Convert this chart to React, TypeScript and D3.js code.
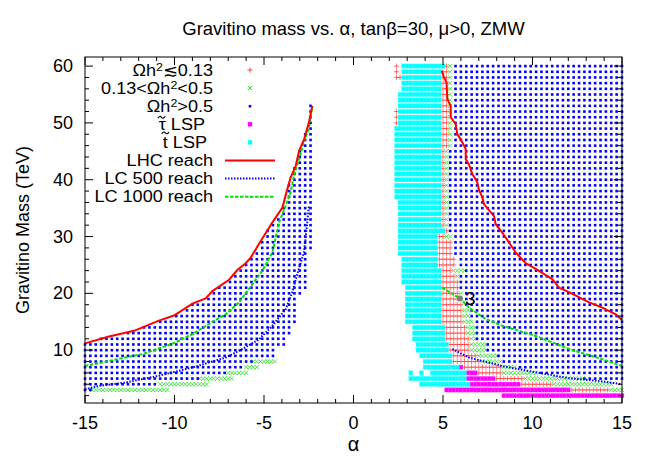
import React from "react";
import * as d3 from "d3";

type Row = [number, number, number]; // [mass (TeV), alpha from, alpha to]
type Pt = [number, number]; // [alpha, mass]

const title = "Gravitino mass vs. α, tanβ=30, μ>0, ZMW";
const xLabel = "α";
const yLabel = "Gravitino Mass (TeV)";
const xTicks = [-15, -10, -5, 0, 5, 10, 15];
const yTicks = [10, 20, 30, 40, 50, 60];

// stop LSP (cyan squares), fine scan step 0.2
const stopLSP: Row[] = [
  [60, 2.8, 5.0], [59, 2.8, 4.8], [58, 2.8, 4.8], [57, 2.8, 4.8], [56, 2.8, 4.8],
  [55, 2.6, 4.8], [54, 2.6, 4.8], [53, 2.6, 4.8], [52, 2.6, 4.8], [51, 2.6, 4.8], [50, 2.6, 4.8],
  [49, 2.4, 4.8], [48, 2.4, 4.8], [47, 2.4, 4.8], [46, 2.4, 4.8], [45, 2.4, 4.8], [44, 2.4, 4.8],
  [43, 2.4, 4.8], [42, 2.4, 4.8], [41, 2.4, 4.8], [40, 2.4, 4.8], [39, 2.4, 4.8], [38, 2.4, 4.8], [37, 2.4, 4.8],
  [36, 2.6, 4.8], [35, 2.6, 4.8], [34, 2.6, 4.8], [33, 2.6, 4.8], [32, 2.6, 4.8], [31, 2.6, 5.0],
  [30, 2.6, 4.6], [29, 2.6, 4.6], [28, 2.6, 4.6], [27, 2.6, 4.6], [26, 2.8, 4.6], [25, 2.8, 4.6],
  [24, 2.8, 4.8], [23, 2.8, 4.8], [22, 2.8, 4.8],
  [21, 3.0, 4.8], [20, 3.0, 4.8], [19, 3.0, 4.8], [18, 3.0, 4.8], [17, 3.0, 4.8], [16, 3.0, 4.8], [15, 3.0, 4.8],
  [14, 3.4, 5.0], [13, 3.4, 5.0], [12, 3.4, 5.0], [11, 3.6, 5.2], [10, 3.6, 5.2], [9, 3.8, 5.4],
  [8, 4.0, 5.4], [7, 4.0, 5.8], [6, 3.2, 3.2], [6, 3.8, 3.8], [6, 4.4, 6.2], [5, 3.2, 6.2], [4, 3.8, 6.4],
];

// stau LSP (magenta squares), step 0.2
const stauLSP: Row[] = [
  [7, 6.0, 6.0], [6, 6.4, 6.8], [5, 6.4, 7.8], [4, 6.6, 9.2], [3, 5.2, 12.0], [2, 8.4, 15.0],
];

// Ωh² < 0.13 (red +), step 0.2
const omegaLow: Row[] = [
  [60, 2.4, 2.4], [60, 5.2, 5.2], [59, 2.4, 2.4], [59, 5.0, 5.2], [58, 2.4, 2.6], [58, 5.0, 5.2],
  [57, 5.0, 5.2], [56, 5.0, 5.2], [55, 5.0, 5.2], [54, 5.0, 5.2], [53, 5.0, 5.2],
  [52, 2.4, 2.4], [52, 5.0, 5.2], [51, 2.4, 2.4], [51, 5.0, 5.2], [50, 2.4, 2.4], [50, 5.0, 5.2],
  [49, 5.0, 5.2], [48, 5.0, 5.2], [47, 5.0, 5.2], [46, 5.0, 5.2],
  [45, 5.0, 5.0], [44, 5.0, 5.0], [43, 5.0, 5.0], [42, 5.0, 5.0], [41, 5.0, 5.0], [40, 5.0, 5.0],
  [39, 5.0, 5.0], [38, 5.0, 5.0], [37, 5.0, 5.0], [36, 5.0, 5.0], [35, 5.0, 5.0], [34, 5.0, 5.0],
  [33, 5.0, 5.0], [32, 5.0, 5.0], [31, 5.2, 5.2], [30, 4.8, 5.0], [29, 4.8, 5.4], [28, 4.8, 5.4],
  [27, 4.8, 5.4], [26, 4.8, 5.6], [25, 4.8, 5.6], [24, 5.0, 5.4], [23, 5.0, 5.6], [22, 5.0, 5.8],
  [21, 5.0, 5.8], [20, 5.0, 5.8], [19, 5.0, 5.8], [18, 5.0, 6.0], [17, 5.0, 6.0], [16, 5.0, 6.0],
  [15, 5.0, 6.0], [14, 5.2, 6.2], [13, 5.2, 6.2], [12, 5.2, 6.4], [11, 5.4, 6.4], [10, 5.4, 6.4],
  [9, 5.6, 6.8], [8, 5.6, 7.0], [7, 6.2, 8.2], [6, 7.0, 8.2], [5, 8.0, 9.4], [4, 9.4, 11.0], [3, 12.2, 14.2],
];

// 0.13 < Ωh² < 0.5 (green x), step 0.2
const omegaMid: Row[] = [
  [60, 5.4, 5.4], [59, 5.4, 5.4], [58, 5.4, 5.4], [57, 5.4, 5.4], [56, 5.4, 5.4], [55, 5.4, 5.4],
  [54, 5.4, 5.4], [53, 5.4, 5.4], [52, 5.4, 5.4], [51, 5.4, 5.4], [50, 5.4, 5.4], [49, 5.4, 5.4],
  [48, 5.4, 5.4], [47, 5.4, 5.4], [46, 5.4, 5.4],
  [45, 5.2, 5.2], [44, 5.2, 5.2], [43, 5.2, 5.2], [42, 5.2, 5.2], [41, 5.2, 5.2], [40, 5.2, 5.2],
  [39, 5.2, 5.2], [38, 5.2, 5.2], [37, 5.2, 5.2], [36, 5.2, 5.2], [35, 5.2, 5.2], [34, 5.2, 5.2],
  [33, 5.2, 5.2], [32, 5.2, 5.2], [30, 5.2, 5.4], [24, 5.6, 6.2], [23, 5.8, 5.8],
  [20, 6.0, 6.0], [19, 6.0, 6.0], [17, 6.2, 6.4], [16, 6.2, 6.4], [15, 6.2, 6.6],
  [14, 6.4, 6.8], [13, 6.4, 6.8], [12, 6.6, 6.8], [11, 6.6, 7.4], [10, 6.6, 7.4],
  [9, 7.0, 8.0], [8, 7.2, 8.2], [7, 8.4, 9.0], [6, 8.4, 10.2], [5, 9.6, 12.8], [4, 11.2, 14.4], [3, 14.4, 15.0],
  [8, -5.6, -4.4], [7, -6.0, -5.4], [6, -7.0, -6.0], [5, -8.6, -6.8], [4, -10.8, -8.2], [3, -14.6, -10.4],
];

// Ωh² > 0.5 (blue dots), coarse scan step 0.3
const omegaHigh: Row[] = [
  [60, 5.7, 15], [59, 5.7, 15], [58, 5.7, 15], [57, 5.7, 15], [56, 5.7, 15], [55, 5.7, 15],
  [54, 5.7, 15], [53, 5.7, 15], [52, 5.7, 15], [51, 5.7, 15], [50, 5.7, 15], [49, 5.7, 15],
  [48, 5.7, 15], [47, 5.7, 15], [46, 5.7, 15],
  [45, 5.4, 15], [44, 5.4, 15], [43, 5.4, 15], [42, 5.4, 15], [41, 5.4, 15], [40, 5.4, 15],
  [39, 5.4, 15], [38, 5.4, 15], [37, 5.4, 15], [36, 5.4, 15], [35, 5.4, 15], [34, 5.4, 15],
  [33, 5.4, 15], [32, 5.4, 15], [31, 5.4, 15],
  [30, 5.7, 15], [29, 5.7, 15], [28, 5.7, 15], [27, 5.7, 15], [26, 6.0, 15], [25, 6.0, 15],
  [24, 6.3, 15], [23, 6.0, 15], [22, 6.0, 15], [21, 6.0, 15], [20, 6.3, 15], [19, 6.3, 15],
  [18, 6.3, 15], [17, 6.6, 15], [16, 6.6, 15], [15, 6.9, 15], [14, 6.9, 15], [13, 6.9, 15],
  [12, 6.9, 15], [11, 7.5, 15], [10, 7.5, 15], [9, 8.1, 15], [8, 8.4, 15], [7, 9.3, 15],
  [6, 10.5, 15], [5, 12.9, 15],
  [53, -2.4, -2.4], [52, -2.4, -2.4], [51, -2.4, -2.4], [50, -2.4, -2.4], [49, -2.4, -2.4],
  [48, -2.7, -2.4], [47, -2.7, -2.4], [46, -2.7, -2.4], [45, -3.0, -2.4], [44, -3.0, -2.4],
  [43, -3.0, -2.4], [42, -3.3, -2.4], [41, -3.3, -2.4], [40, -3.3, -2.4], [39, -3.6, -2.4],
  [38, -3.6, -2.4], [37, -3.6, -2.4], [36, -3.6, -2.4], [35, -3.9, -2.4], [34, -3.9, -2.4],
  [33, -4.2, -2.4], [32, -4.5, -2.4], [31, -4.8, -2.4], [30, -4.8, -2.4], [29, -5.1, -2.4],
  [28, -5.1, -2.4], [27, -5.4, -2.7], [26, -5.7, -2.7], [25, -6.0, -2.7], [24, -6.3, -2.7],
  [23, -6.6, -2.7], [22, -6.9, -2.7], [21, -7.5, -2.7], [20, -7.8, -3.0], [19, -8.1, -3.3],
  [18, -9.0, -3.3], [17, -9.3, -3.3], [16, -9.9, -3.3], [15, -10.8, -3.3], [14, -11.7, -3.6],
  [13, -12.6, -3.6], [12, -14.1, -3.9], [11, -15, -3.9], [10, -15, -4.5], [9, -15, -4.5],
  [8, -15, -5.7], [7, -15, -6.3], [6, -15, -7.2], [5, -15, -8.7], [4, -15, -11.1], [3, -15, -14.7],
];

// reach curves [alpha, mass]
const lhcLeft: Pt[] = [
  [-15.0, 11.2], [-13.66, 12.4], [-12.26, 13.4], [-10.87, 15.2], [-10.03, 16.1], [-9.0, 18.2],
  [-8.26, 19.1], [-7.88, 20.4], [-6.95, 22.4], [-6.49, 24.1], [-6.02, 25.3], [-5.74, 26.3],
  [-5.18, 29.2], [-4.53, 32.5], [-3.97, 35.1], [-3.7, 38.3], [-3.51, 40.4], [-3.23, 42.4],
  [-3.04, 45.1], [-2.76, 47.1], [-2.49, 50.1], [-2.3, 53.0],
];
const lhcRight: Pt[] = [
  [4.93, 59.2], [5.06, 58.0], [5.2, 57.1], [5.24, 54.2], [5.43, 53.0], [5.43, 51.0], [5.71, 49.8],
  [5.8, 48.0], [5.99, 47.1], [6.27, 45.4], [6.27, 43.6], [6.45, 42.7], [6.64, 41.0], [6.92, 39.5],
  [7.0, 38.3], [7.2, 36.9], [7.29, 35.7], [7.85, 33.6], [7.94, 32.2], [8.31, 30.7], [9.06, 27.2],
  [9.62, 25.3], [10.18, 24.3], [11.11, 22.5], [11.48, 21.0], [12.04, 20.2], [13.16, 18.4],
  [13.9, 17.5], [14.65, 16.3], [15.0, 15.3],
];
const lc500Left: Pt[] = [
  [-15.0, 3.1], [-14.22, 3.7], [-12.73, 4.3], [-10.87, 5.5], [-9.0, 6.95], [-7.14, 8.7],
  [-6.21, 10.2], [-5.28, 11.9], [-4.53, 14.3], [-3.79, 17.2], [-3.42, 20.2], [-3.14, 23.4],
  [-2.77, 27.2], [-2.64, 30.7], [-2.49, 35.4],
];
const lc500Right: Pt[] = [
  [5.52, 10.2], [6.45, 8.7], [8.31, 7.2], [10.18, 6.1], [12.0, 5.1], [13.9, 4.5], [15.0, 4.0],
];
const lc1000Left: Pt[] = [
  [-15.0, 7.2], [-13.67, 8.1], [-11.81, 9.3], [-10.13, 11.1], [-9.01, 12.8], [-8.08, 14.6],
  [-7.15, 16.3], [-6.4, 18.4], [-5.09, 24.0], [-4.53, 27.2], [-4.16, 32.5], [-3.79, 35.4],
  [-3.51, 37.8], [-3.33, 40.7], [-3.0, 44.0], [-2.76, 46.8], [-2.49, 49.0], [-2.3, 53.0],
];
const lc1000Right: Pt[] = [
  [4.96, 21.0], [5.99, 19.0], [6.45, 17.5], [7.38, 15.5], [8.31, 14.3], [10.18, 12.5],
  [12.04, 10.2], [13.9, 8.4], [15.0, 7.2],
];

const benchmark: Pt = [5.95, 19.1];
const benchmarkLabel = "3";

const legendLabels = [
  "omegaLow", "omegaMid", "omegaHigh", "stau", "stop", "lhc", "lc500", "lc1000",
];

function expand(rows: Row[], step: number) {
  const out: { a: number; m: number }[] = [];
  for (const [m, a, b] of rows) {
    const n = Math.round((b - a) / step);
    for (let i = 0; i <= n; i++) out.push({ a: a + i * step, m });
  }
  return out;
}

const FONT = "'Liberation Sans', Arial, Helvetica, sans-serif";
const RED = "#ff0000";
const GREEN = "#00e000";
const BLUE = "#0000ff";
const MAGENTA = "#ff00ff";
const CYAN = "#00ffff";

export default function App() {
  const W = 654, H = 458;
  const L = 85, R = 622, T = 57, B = 403;
  const x = d3.scaleLinear().domain([-15, 15]).range([L, R]);
  const y = d3.scaleLinear().domain([0.7, 61.6]).range([B, T]);
  const line = d3.line<Pt>().x((d) => x(d[0])).y((d) => y(d[1]));

  const redPts = expand(omegaLow, 0.2);
  const greenPts = expand(omegaMid, 0.2);
  const bluePts = expand(omegaHigh, 0.3);
  const stauPts = expand(stauLSP, 0.2);
  const stopPts = expand(stopLSP, 0.2);

  const plus = (cx: number, cy: number, s = 2.6) =>
    `M${cx - s},${cy}h${2 * s}M${cx},${cy - s}v${2 * s}`;
  const cross = (cx: number, cy: number, s = 2.1) =>
    `M${cx - s},${cy - s}L${cx + s},${cy + s}M${cx - s},${cy + s}L${cx + s},${cy - s}`;
  const tilde = (cx: number, cy: number) =>
    `M${cx - 3.6},${cy + 1}Q${cx - 1.8},${cy - 2.2} ${cx},${cy}T${cx + 3.6},${cy - 1}`;

  const xMinor = d3.range(-15, 15.001, 1);
  const yMinor = d3.range(2, 61, 2);

  const FS = 18;
  const LFS = 16; // legend glyph height
  const SX = 1.13; // horizontal stretch so legend widths match the reference
  const legendX = 213;
  const sampleX = 250;
  const legendY0 = 70;
  const legendDY = 18.1;
  const lspWidth = 2.168 * LFS * SX; // width of " LSP"

  const sup = (s: string, rest: string) => (
    <>
      <tspan dy={-4.5} fontSize={11}>{s}</tspan>
      <tspan dy={4.5}>{rest}</tspan>
    </>
  );

  const lt = (ex: number, ty: number, content: React.ReactNode) => (
    <text transform={`translate(${ex},${ty}) scale(${SX},1)`} textAnchor="end">{content}</text>
  );

  const legendText = (key: string, cy: number) => {
    const ty = cy + 5.5;
    switch (key) {
      case "omegaLow":
        return lt(legendX, ty, <>Ωh{sup("2", "≲0.13")}</>);
      case "omegaMid":
        return lt(legendX, ty, <>0.13&lt;Ωh{sup("2", "<0.5")}</>);
      case "omegaHigh":
        return lt(legendX, ty, <>Ωh{sup("2", ">0.5")}</>);
      case "stau": {
        const ex = 205;
        return (
          <g>
            {lt(ex, ty, "τ LSP")}
            <path d={tilde(ex - lspWidth - 4.3, ty - 12.5)} stroke="#000" strokeWidth={1.1} fill="none" />
          </g>
        );
      }
      case "stop": {
        const ex = 207;
        return (
          <g>
            {lt(ex, ty, "t LSP")}
            <path d={tilde(ex - lspWidth - 2.5, ty - 15)} stroke="#000" strokeWidth={1.1} fill="none" />
          </g>
        );
      }
      case "lhc":
        return lt(legendX, ty, "LHC reach");
      case "lc500":
        return lt(legendX, ty, "LC 500 reach");
      default:
        return lt(legendX, ty, "LC 1000 reach");
    }
  };

  const legendSample = (key: string, cy: number) => {
    switch (key) {
      case "omegaLow":
        return <path d={plus(sampleX, cy)} stroke={RED} strokeWidth={0.9} fill="none" opacity={0.75} />;
      case "omegaMid":
        return <path d={cross(sampleX, cy)} stroke={GREEN} strokeWidth={0.9} fill="none" />;
      case "omegaHigh":
        return <rect x={sampleX - 1.3} y={cy - 1.3} width={2.6} height={2.6} fill={BLUE} />;
      case "stau":
        return <rect x={sampleX - 2.2} y={cy - 2.2} width={4.4} height={4.4} fill={MAGENTA} />;
      case "stop":
        return <rect x={sampleX - 2.2} y={cy - 2.2} width={4.4} height={4.4} fill={CYAN} />;
      case "lhc":
        return <line x1={225} x2={275} y1={cy} y2={cy} stroke={RED} strokeWidth={2} />;
      case "lc500":
        return <line x1={225} x2={275} y1={cy} y2={cy} stroke={BLUE} strokeWidth={2} strokeDasharray="1.5,1.5" />;
      default:
        return <line x1={225} x2={275} y1={cy} y2={cy} stroke={GREEN} strokeWidth={2} strokeDasharray="3.5,1.5" />;
    }
  };

  return (
    <svg width={W} height={H} style={{ position: "absolute", left: 0, top: 0, background: "#fff" }} fontFamily={FONT}>
      <rect x={0} y={0} width={W} height={H} fill="#fff" />
      <text x={(L + R) / 2} y={35} textAnchor="middle" fontSize={18.5}>{title}</text>

      {/* points */}
      <g>
        {redPts.map((p, i) => (
          <path key={`r${i}`} d={plus(x(p.a), y(p.m))} stroke={RED} strokeWidth={0.9} fill="none" opacity={0.6} />
        ))}
        {greenPts.map((p, i) => (
          <path key={`g${i}`} d={cross(x(p.a), y(p.m))} stroke={GREEN} strokeWidth={0.9} fill="none" opacity={0.75} />
        ))}
        {bluePts.map((p, i) => (
          <rect key={`b${i}`} x={x(p.a) - 1.3} y={y(p.m) - 1.3} width={2.6} height={2.6} fill={BLUE} />
        ))}
        {stauPts.map((p, i) => (
          <rect key={`m${i}`} x={x(p.a) - 2} y={y(p.m) - 2.2} width={4} height={4.4} fill={MAGENTA} stroke="#ff66ff" strokeWidth={0.3} />
        ))}
        {stopPts.map((p, i) => (
          <rect key={`c${i}`} x={x(p.a) - 2} y={y(p.m) - 2.2} width={4} height={4.4} fill={CYAN} stroke="#66ffff" strokeWidth={0.3} />
        ))}
      </g>

      {/* reach lines */}
      <g fill="none">
        <path d={line(lc500Left) || ""} stroke={BLUE} strokeWidth={2} strokeDasharray="1.5,1.5" />
        <path d={line(lc500Right) || ""} stroke={BLUE} strokeWidth={2} strokeDasharray="1.5,1.5" />
        <path d={line(lc1000Left) || ""} stroke={GREEN} strokeWidth={2} strokeDasharray="3.5,1.5" />
        <path d={line(lc1000Right) || ""} stroke={GREEN} strokeWidth={2} strokeDasharray="3.5,1.5" />
        <path d={line(lhcLeft) || ""} stroke={RED} strokeWidth={2} />
        <path d={line(lhcRight) || ""} stroke={RED} strokeWidth={2} />
      </g>

      {/* benchmark point */}
      <circle cx={x(benchmark[0])} cy={y(benchmark[1])} r={3} fill="#808080" />
      <text x={x(benchmark[0]) + 5} y={y(benchmark[1]) + 7} fontSize={19}>{benchmarkLabel}</text>

      {/* frame and ticks */}
      <rect x={L} y={T} width={R - L} height={B - T} fill="none" stroke="#000" strokeWidth={1} />
      <g stroke="#000" strokeWidth={1}>
        {xMinor.map((v) => {
          const major = xTicks.includes(v);
          const len = major ? 8 : 4;
          return (
            <g key={`xt${v}`}>
              <line x1={x(v)} x2={x(v)} y1={B} y2={B - len} />
              <line x1={x(v)} x2={x(v)} y1={T} y2={T + len} />
            </g>
          );
        })}
        {yMinor.map((v) => {
          const major = yTicks.includes(v);
          const len = major ? 8 : 4;
          return (
            <g key={`yt${v}`}>
              <line x1={L} x2={L + len} y1={y(v)} y2={y(v)} />
              <line x1={R} x2={R - len} y1={y(v)} y2={y(v)} />
            </g>
          );
        })}
      </g>
      <g fontSize={FS} fill="#000">
        {xTicks.map((v) => (
          <text key={`xl${v}`} x={x(v)} y={B + 26} textAnchor="middle">{v}</text>
        ))}
        {yTicks.map((v) => (
          <text key={`yl${v}`} x={L - 12} y={y(v) + 6} textAnchor="end">{v}</text>
        ))}
      </g>
      <text x={(L + R) / 2} y={451} textAnchor="middle" fontSize={20}>{xLabel}</text>
      <text transform={`translate(29,${(T + B) / 2}) rotate(-90)`} textAnchor="middle" fontSize={FS}>{yLabel}</text>

      {/* legend */}
      <g fontSize={LFS}>
        {legendLabels.map((k, i) => {
          const cy = legendY0 + i * legendDY;
          return (
            <g key={k}>
              {legendText(k, cy)}
              {legendSample(k, cy)}
            </g>
          );
        })}
      </g>
    </svg>
  );
}
